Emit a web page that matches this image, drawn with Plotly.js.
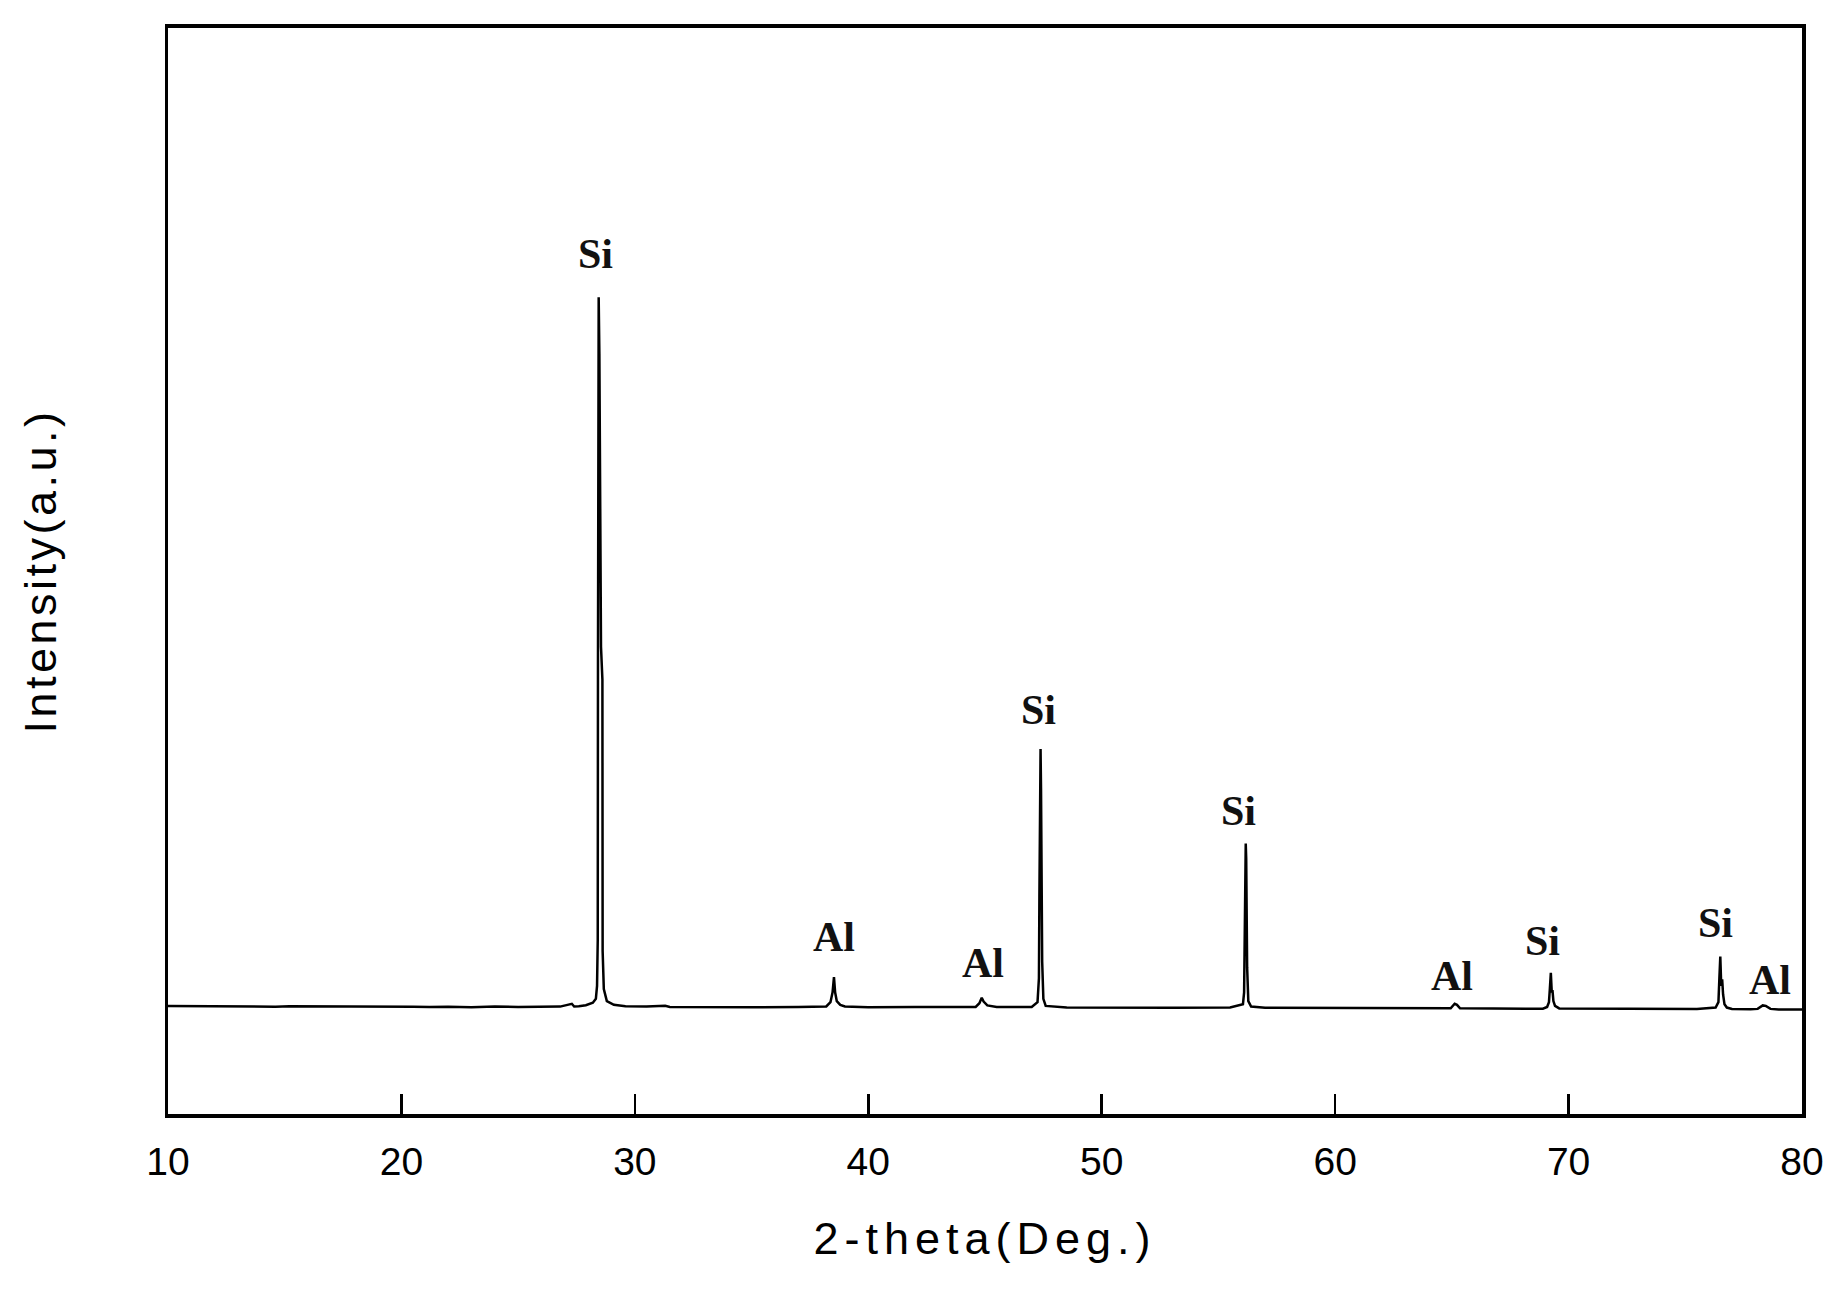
<!DOCTYPE html>
<html>
<head>
<meta charset="utf-8">
<script src="https://cdn.plot.ly/plotly-3.0.1.min.js"></script>
<style>
  html, body { margin: 0; padding: 0; background: #fff; }
  #plot { width: 1847px; height: 1299px; }
  /* the original titles are set with wide letter spacing */
  #plot .xtitle { letter-spacing: 6px; }
  #plot .ytitle { letter-spacing: 3.5px; }
</style>
</head>
<body>
<div id="plot"></div>
<script>
// XRD pattern (intensity in arbitrary units)
const twoTheta = [
  10.0, 11.0, 11.5, 12.2, 12.8, 13.4, 14.0, 14.6, 15.2, 16.0, 18.0, 20.5, 21.2, 22.0, 23.0, 24.0, 25.0, 26.0,
  26.8, 27.3, 27.4, 27.6, 27.9, 28.2, 28.33, 28.38, 28.41, 28.42, 28.45, 28.48, 28.55, 28.61, 28.62, 28.67, 28.8,
  29.1, 29.6, 30.5, 31.3, 31.5, 33.0, 35.0, 37.0,
  38.2, 38.38, 38.47, 38.53, 38.58, 38.65, 38.8, 39.0, 40.0, 42.0, 43.5,
  44.6, 44.76, 44.86, 44.94, 45.1, 45.5, 46.5, 47.0,
  47.25, 47.31, 47.33, 47.36, 47.38, 47.40, 47.42, 47.45, 47.50, 47.6, 48.5, 50.5, 53.0, 55.5,
  56.05, 56.10, 56.13, 56.15, 56.17, 56.19, 56.21, 56.23, 56.28, 56.4, 57.0, 60.0, 64.0,
  64.95, 65.12, 65.22, 65.35, 67.0, 68.9,
  69.08, 69.16, 69.20, 69.24, 69.28, 69.31, 69.35, 69.42, 69.6, 72.0, 75.5,
  76.3, 76.42, 76.46, 76.50, 76.54, 76.58, 76.62, 76.68, 76.78, 77.0, 77.8,
  78.1, 78.32, 78.45, 78.65, 79.0, 80.0
];
const intensity = [
  99.5, 99.4, 98.8, 99.0, 98.7, 99.1, 98.9, 98.8, 99.3, 99.3, 99.2, 98.7, 98.5, 98.8, 98.4, 98.9, 98.6, 98.7,
  98.9, 101.5, 99.0, 99.2, 100.2, 102.5, 106, 118, 160, 420, 752, 700, 430, 400, 150, 115, 104,
  100.5, 99.3, 98.9, 99.6, 98.6, 98.4, 98.3, 98.6,
  99.0, 103, 112, 126, 112, 104, 100.5, 99.0, 98.3, 98.5, 98.3,
  98.6, 102, 107, 103.5, 100, 98.6, 98.2, 98.5,
  103, 125, 200, 290, 336, 300, 250, 140, 106, 99.5, 98.0, 97.8, 97.8, 98.0,
  101, 112, 180, 230, 249, 235, 200, 135, 104, 99.0, 97.8, 97.5, 97.3,
  97.3, 101.5, 100.5, 97.3, 97.0, 96.9,
  98.5, 103, 116, 130, 112, 114, 104, 99.5, 97.2, 96.8, 96.6,
  98.0, 103, 125, 145, 118, 124, 110, 101, 98.0, 96.7, 96.5,
  96.8, 100.0, 99.6, 96.8, 96.3, 96.2
];

const peakLabels = ["Si", "Al", "Al", "Si", "Si", "Al", "Si", "Si", "Al"];
const labelX = [28.33, 38.54, 44.9, 47.3, 55.85, 65.0, 68.9, 76.28, 78.64];
const labelY = [792, 163, 139, 372, 279, 127, 159, 176, 123];

const traces = [{
  type: "scatter",
  mode: "lines",
  x: twoTheta,
  y: intensity,
  line: { color: "#000", width: 2.5 },
  showlegend: false,
  hoverinfo: "skip"
}];

const annotations = peakLabels.map((t, i) => ({
  x: labelX[i], y: labelY[i],
  xref: "x", yref: "y",
  text: "<b>" + t + "</b>",
  showarrow: false,
  xanchor: "center", yanchor: "middle",
  font: { family: "Liberation Serif, Times New Roman, serif", size: 42, color: "#111" }
}));

const layout = {
  width: 1847,
  height: 1299,
  margin: { l: 168, r: 45, t: 28, b: 185 },
  paper_bgcolor: "#fff",
  plot_bgcolor: "#fff",
  font: { family: "Liberation Sans, Arial, sans-serif", color: "#000" },
  showlegend: false,
  xaxis: {
    range: [10, 80],
    tickmode: "array",
    tickvals: [10, 20, 30, 40, 50, 60, 70, 80],
    ticks: "inside",
    ticklen: 20,
    tickwidth: 2.5,
    tickcolor: "#000",
    showline: true,
    linewidth: 4,
    linecolor: "#000",
    mirror: true,
    showgrid: false,
    zeroline: false,
    ticklabelstandoff: 10,
    tickfont: { size: 39, color: "#000" },
    title: { text: "2-theta(Deg.)", font: { size: 45, color: "#000" }, standoff: 42 }
  },
  yaxis: {
    range: [0, 1000],
    showticklabels: false,
    ticks: "",
    showline: true,
    linewidth: 3.5,
    linecolor: "#000",
    mirror: true,
    showgrid: false,
    zeroline: false,
    title: { text: "Intensity(a.u.)", font: { size: 45, color: "#000" }, standoff: 95 }
  },
  annotations
};

Plotly.newPlot("plot", traces, layout, { staticPlot: true });
</script>
</body>
</html>
